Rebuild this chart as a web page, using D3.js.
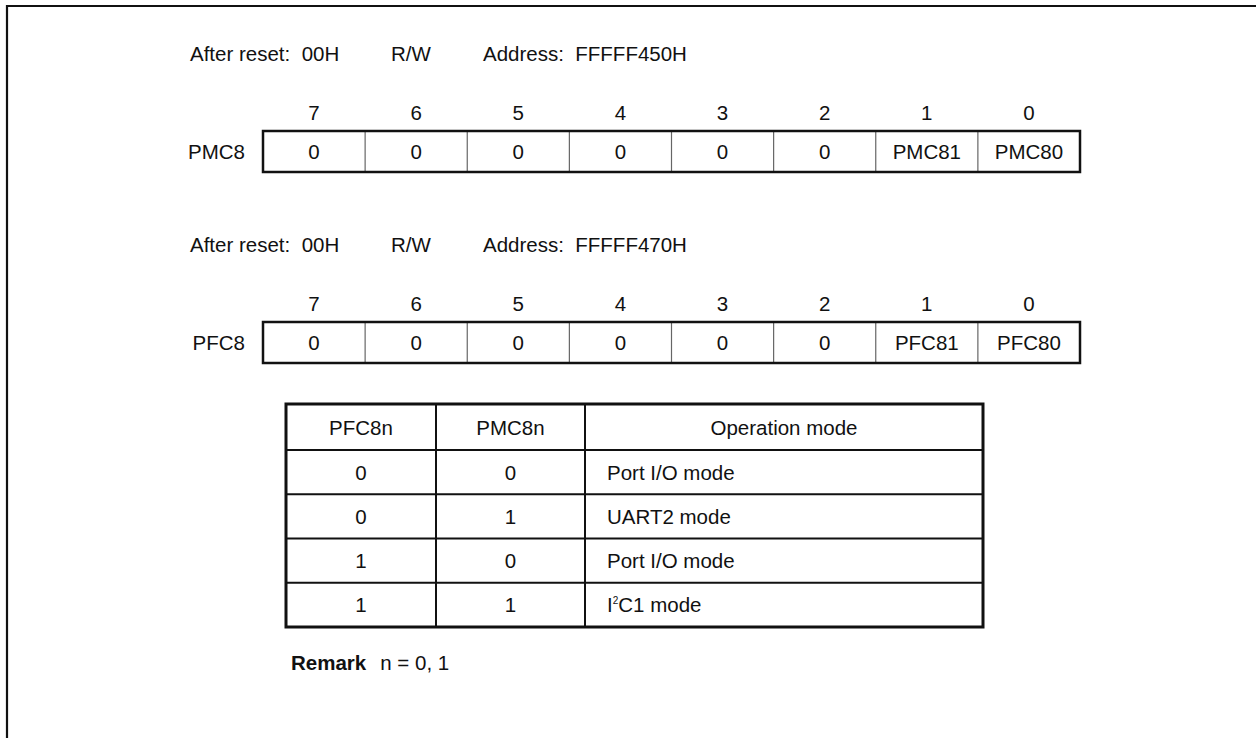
<!DOCTYPE html>
<html>
<head>
<meta charset="utf-8">
<script src="https://cdn.jsdelivr.net/npm/d3@7"></script>
<style>
  html, body { margin: 0; padding: 0; background: #fff; }
  svg text { font-family: "Liberation Sans", Arial, Helvetica, sans-serif; fill: #111; white-space: pre; }
</style>
</head>
<body>
<svg id="chart" width="1256" height="738"></svg>
<script>
// ---------- data ----------
const bitNumbers = [7, 6, 5, 4, 3, 2, 1, 0];
const pmcName = "PMC8";
const pmcReset = "After reset:  00H";
const pmcAccess = "R/W";
const pmcAddress = "Address:  FFFFF450H";
const pmcBits = ["0", "0", "0", "0", "0", "0", "PMC81", "PMC80"];

const pfcName = "PFC8";
const pfcReset = "After reset:  00H";
const pfcAccess = "R/W";
const pfcAddress = "Address:  FFFFF470H";
const pfcBits = ["0", "0", "0", "0", "0", "0", "PFC81", "PFC80"];

const tableHeaders = ["PFC8n", "PMC8n", "Operation mode"];
const colPFC = ["0", "0", "1", "1"];
const colPMC = ["0", "1", "0", "1"];
const colMode = ["Port I/O mode", "UART2 mode", "Port I/O mode", "I2C1 mode"];

const remarkLabel = "Remark";
const remarkText = "n = 0, 1";

// ---------- layout ----------
const svg = d3.select("#chart");
const FS = 20.5;

// outer frame (only top & left visible, cropped)
svg.append("path")
  .attr("d", "M7,1000 L7,6 L1300,6")
  .attr("fill", "none").attr("stroke", "#111").attr("stroke-width", 2.2);

const xBits = d3.scaleBand().domain(bitNumbers).range([263, 1080]).padding(0);

function drawRegister(top, name, reset, access, address, bits) {
  const g = svg.append("g");
  const boxTop = top, boxH = 41;
  // header line
  g.append("text").attr("x", 190).attr("y", boxTop - 70).attr("font-size", FS).text(reset);
  g.append("text").attr("x", 391).attr("y", boxTop - 70).attr("font-size", FS).text(access);
  g.append("text").attr("x", 483).attr("y", boxTop - 70).attr("font-size", FS).text(address);
  // bit numbers
  g.selectAll("text.bitnum").data(bitNumbers).enter().append("text")
    .attr("class", "bitnum")
    .attr("x", d => xBits(d) + xBits.bandwidth() / 2)
    .attr("y", boxTop - 11)
    .attr("text-anchor", "middle").attr("font-size", FS).text(d => d);
  // name
  g.append("text").attr("x", 245).attr("y", boxTop + boxH / 2 + 7.5)
    .attr("text-anchor", "end").attr("font-size", FS).text(name);
  // inner dividers
  g.selectAll("line.div").data(bitNumbers.slice(1)).enter().append("line")
    .attr("x1", d => xBits(d)).attr("x2", d => xBits(d))
    .attr("y1", boxTop).attr("y2", boxTop + boxH)
    .attr("stroke", "#666").attr("stroke-width", 1.2);
  // outer box
  g.append("rect").attr("x", xBits.range()[0]).attr("y", boxTop)
    .attr("width", xBits.range()[1] - xBits.range()[0]).attr("height", boxH)
    .attr("fill", "none").attr("stroke", "#111").attr("stroke-width", 2.5);
  // cell texts
  g.selectAll("text.cell").data(bits).enter().append("text")
    .attr("class", "cell")
    .attr("x", (d, i) => xBits(bitNumbers[i]) + xBits.bandwidth() / 2)
    .attr("y", boxTop + boxH / 2 + 7.5)
    .attr("text-anchor", "middle").attr("font-size", FS).text(d => d);
}

drawRegister(131, pmcName, pmcReset, pmcAccess, pmcAddress, pmcBits);
drawRegister(322, pfcName, pfcReset, pfcAccess, pfcAddress, pfcBits);

// ---------- table ----------
const colEdges = [286, 436, 585, 983];
const tTop = 404, hdrBottom = 450, tBottom = 627;
const yRows = d3.scaleBand().domain(d3.range(colPFC.length)).range([hdrBottom, tBottom]);
const tg = svg.append("g");

// header texts
tableHeaders.forEach((h, i) => {
  tg.append("text").attr("x", (colEdges[i] + colEdges[i + 1]) / 2)
    .attr("y", (tTop + hdrBottom) / 2 + 7.5)
    .attr("text-anchor", "middle").attr("font-size", FS).text(h);
});

// row lines
tg.selectAll("line.row").data(d3.range(colPFC.length)).enter().append("line")
  .attr("x1", colEdges[0]).attr("x2", colEdges[3])
  .attr("y1", d => yRows(d)).attr("y2", d => yRows(d))
  .attr("stroke", "#111").attr("stroke-width", 2);
// column lines
[colEdges[1], colEdges[2]].forEach(x => {
  tg.append("line").attr("x1", x).attr("x2", x).attr("y1", tTop).attr("y2", tBottom)
    .attr("stroke", "#111").attr("stroke-width", 2);
});
tg.append("rect").attr("x", colEdges[0]).attr("y", tTop)
  .attr("width", colEdges[3] - colEdges[0]).attr("height", tBottom - tTop)
  .attr("fill", "none").attr("stroke", "#111").attr("stroke-width", 3);

const rowsG = tg.selectAll("g.r").data(d3.range(colPFC.length)).enter().append("g");
rowsG.append("text").attr("x", (colEdges[0] + colEdges[1]) / 2)
  .attr("y", d => yRows(d) + yRows.bandwidth() / 2 + 7.5)
  .attr("text-anchor", "middle").attr("font-size", FS).text(d => colPFC[d]);
rowsG.append("text").attr("x", (colEdges[1] + colEdges[2]) / 2)
  .attr("y", d => yRows(d) + yRows.bandwidth() / 2 + 7.5)
  .attr("text-anchor", "middle").attr("font-size", FS).text(d => colPMC[d]);
rowsG.append("text").attr("x", 607)
  .attr("y", d => yRows(d) + yRows.bandwidth() / 2 + 7.5)
  .attr("font-size", FS)
  .each(function (d) {
    const t = d3.select(this);
    const s = colMode[d];
    const m = s.match(/^I2C(.*)$/);
    if (m) {
      t.append("tspan").text("I");
      t.append("tspan").attr("font-size", 10).attr("dy", -8).text("2");
      t.append("tspan").attr("dy", 8).text("C" + m[1]);
    } else {
      t.text(s);
    }
  });

// ---------- remark ----------
const rg = svg.append("text").attr("x", 291).attr("y", 670).attr("font-size", FS);
rg.append("tspan").attr("font-weight", "bold").text(remarkLabel);
rg.append("tspan").attr("dx", 14).text(remarkText);
</script>
</body>
</html>
